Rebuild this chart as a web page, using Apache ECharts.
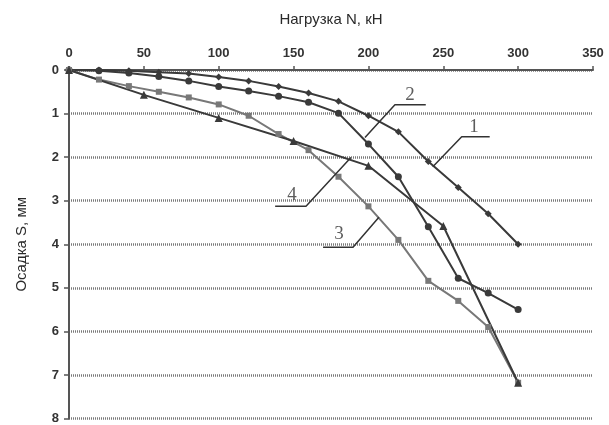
<!DOCTYPE html>
<html>
<head>
<meta charset="utf-8">
<script src="https://cdn.jsdelivr.net/npm/echarts@6/dist/echarts.min.js"></script>
<style>html,body{margin:0;padding:0;background:#fff}#c{width:609px;height:425px}</style>
</head>
<body>
<div id="c"></div>
<script>
// Loads (kN) for curves 1-3
const loadsA = [0,20,40,60,80,100,120,140,160,180,200,220,240,260,280,300];
// Settlement (mm)
const curve1 = [0,0.0,0.02,0.05,0.08,0.16,0.25,0.38,0.53,0.72,1.05,1.42,2.1,2.7,3.3,4.0];
const curve2 = [0,0.02,0.07,0.15,0.25,0.38,0.48,0.6,0.74,0.99,1.7,2.45,3.6,4.78,5.12,5.5];
const curve3 = [0,0.22,0.37,0.5,0.63,0.79,1.05,1.47,1.84,2.45,3.13,3.9,4.84,5.3,5.9,7.18];
// Loads for curve 4
const loadsB = [0,50,100,150,200,250,300];
const curve4 = [0,0.57,1.1,1.63,2.2,3.58,7.18];

const xTitle = 'Нагрузка N, кН';
const yTitle = 'Осадка S, мм';

// Leader-line annotations (data units): [x,y] points and label positions
const leaderNames = ['1','2','3','4'];
const leaderX = [[243,262.3,281],[197.7,217.7,238.3],[207,189.7,169.7],[188.3,158.3,137.7]];
const leaderY = [[2.22,1.53,1.53],[1.55,0.8,0.8],[3.38,4.07,4.07],[2.01,3.13,3.13]];
const labelX = [270.5,227.7,180.3,149];
const labelY = [1.3,0.57,3.77,2.86];

const pairs = (xs, ys) => xs.map((x,i)=>[x, ys[i]]);

const dark = '#3a3a3a';
const gray = '#787878';

function curve(name, xs, ys, color, symbol, size){
  return {
    name, type:'line', data: pairs(xs, ys),
    symbol, symbolSize:size, showSymbol:true,
    lineStyle:{color, width:2}, itemStyle:{color},
    z:5, animation:false
  };
}

const series = [
  curve('1', loadsA, curve1, dark, 'diamond', 7),
  curve('2', loadsA, curve2, dark, 'circle', 7),
  curve('3', loadsA, curve3, gray, 'rect', 6),
  curve('4', loadsB, curve4, dark, 'triangle', 8)
];
leaderNames.forEach((n,i)=>{
  series.push({
    type:'line', data: pairs(leaderX[i], leaderY[i]), symbol:'none',
    lineStyle:{color:'#333', width:1.5}, z:6, animation:false, silent:true
  });
});
series.push({
  type:'scatter', symbolSize:0, animation:false, silent:true, z:7,
  data: leaderNames.map((n,i)=>({value:[labelX[i], labelY[i]], name:n})),
  label:{show:true, position:'inside', formatter:p=>p.name,
    fontFamily:'Liberation Serif', fontSize:19, color:'#333'}
});

const chart = echarts.init(document.getElementById('c'), null, {renderer:'canvas'});
chart.setOption({
  backgroundColor:'#fff',
  animation:false,
  grid:{left:69, top:70, right:16, bottom:5, containLabel:false},
  xAxis:{
    type:'value', position:'top', min:0, max:350, interval:50,
    name:xTitle, nameLocation:'middle', nameGap:43,
    nameTextStyle:{fontFamily:'Liberation Sans', fontSize:15, color:'#2a2a2a'},
    axisLine:{show:true, onZero:false, lineStyle:{color:'#555', width:2}},
    axisTick:{show:true, length:4, lineStyle:{color:'#555', width:1.5}},
    axisLabel:{fontFamily:'Liberation Sans', fontSize:13, fontWeight:'bold', color:'#333', margin:10},
    splitLine:{show:false}
  },
  yAxis:{
    type:'value', inverse:true, min:0, max:8, interval:1,
    name:yTitle, nameLocation:'middle', nameGap:40, nameRotate:90,
    nameTextStyle:{fontFamily:'Liberation Sans', fontSize:15, color:'#2a2a2a'},
    axisLine:{show:true, onZero:false, lineStyle:{color:'#555', width:2}},
    axisTick:{show:true, length:5, lineStyle:{color:'#555', width:1.5}},
    axisLabel:{fontFamily:'Liberation Sans', fontSize:13, fontWeight:'bold', color:'#333', margin:10},
    splitLine:{show:true, lineStyle:{color:'#7a7a7a', width:2.5, type:[1,1]}}
  },
  series
});
</script>
</body>
</html>
